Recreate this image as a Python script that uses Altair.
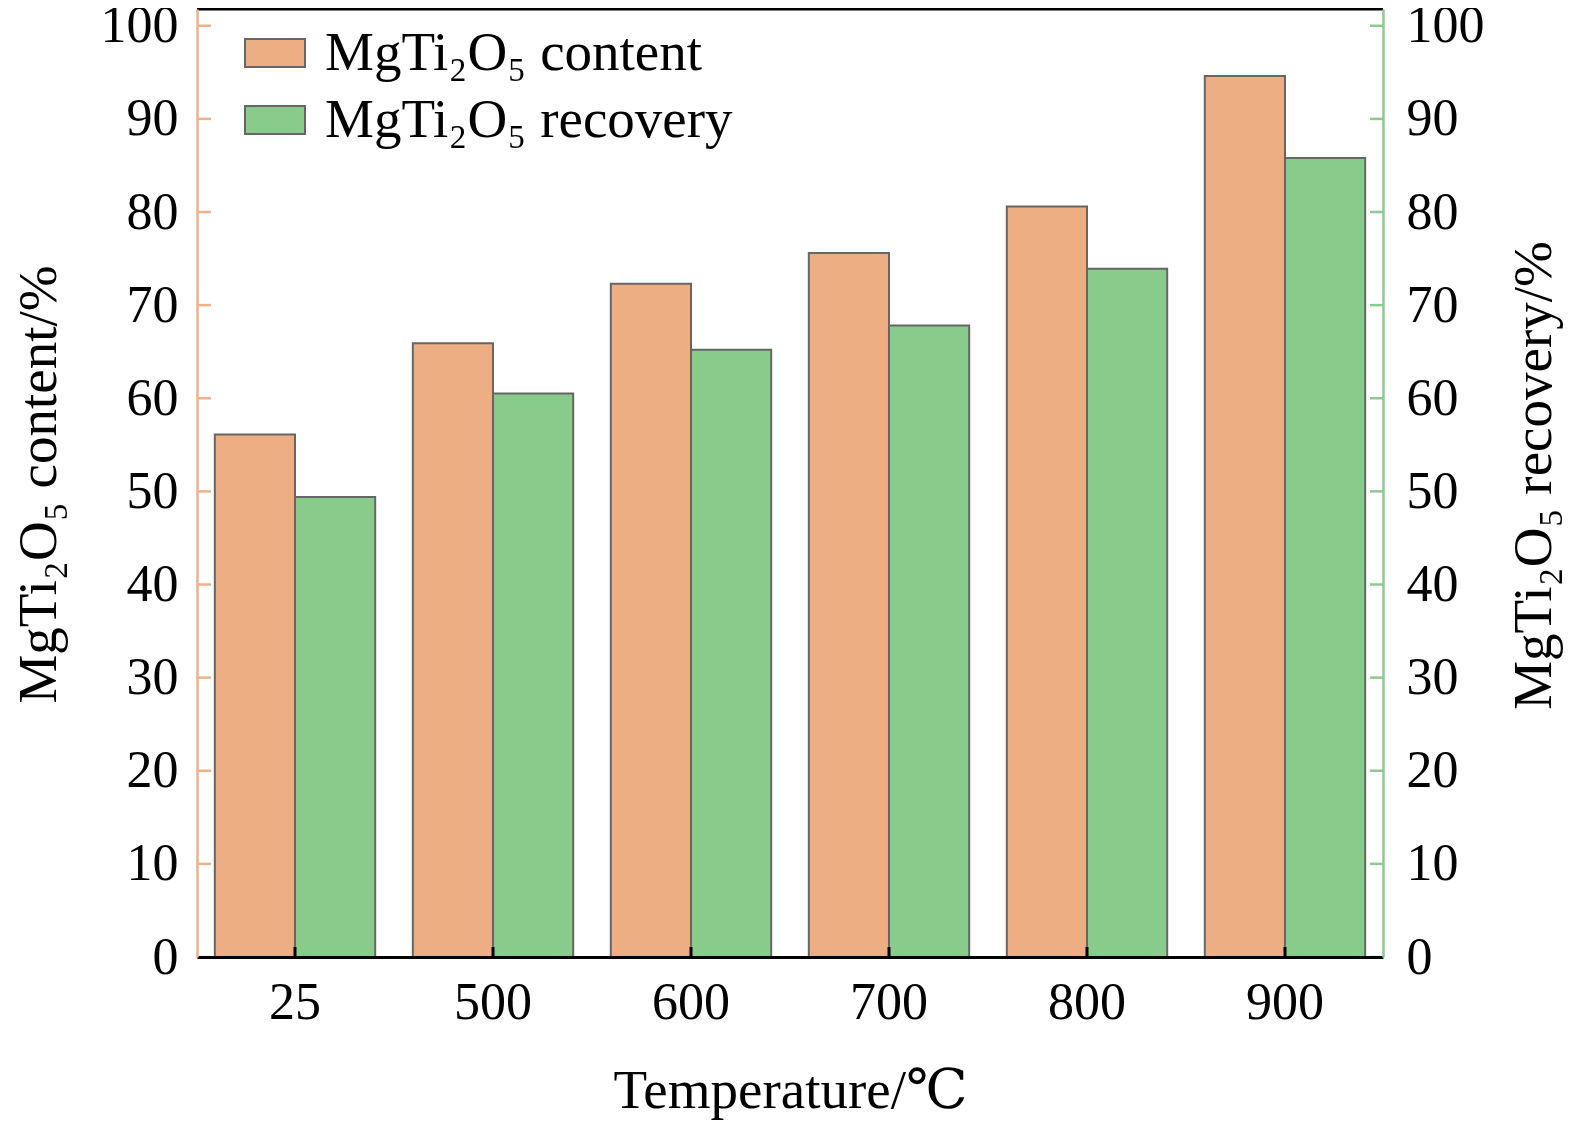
import altair as alt
import pandas as pd

# ---- data ----
temperatures = ["25", "500", "600", "700", "800", "900"]
content = [56.1, 65.9, 72.3, 75.6, 80.6, 94.6]
recovery = [49.4, 60.5, 65.2, 67.8, 73.9, 85.8]
series = ["MgTi₂O₅ content", "MgTi₂O₅ recovery"]
y_ticks = [0, 10, 20, 30, 40, 50, 60, 70, 80, 90, 100]

W, H = 1186, 948
FONT = "Liberation Serif, DejaVu Serif, serif"
ORANGE = "#EEAE84"
GREEN = "#89CB8B"
ORANGE_AX = "#EFB288"
GREEN_AX = "#8CCB8E"
STROKE = "#666666"
YDOM = [0, 101.8]

rows = []
for t, c, r in zip(temperatures, content, recovery):
    rows.append({"Temperature": t, "Series": series[0], "Value": c})
    rows.append({"Temperature": t, "Series": series[1], "Value": r})
df = pd.DataFrame(rows)
tick_df = pd.DataFrame({"v": y_ticks})
temp_df = pd.DataFrame({"Temperature": temperatures})

x_enc = alt.X(
    "Temperature:N",
    sort=temperatures,
    scale=alt.Scale(paddingInner=0.19, paddingOuter=0.09),
    axis=alt.Axis(
        title="Temperature/℃",
        labelFont=FONT, labelFontSize=52, labelColor="black",
        labelPadding=20, labelAngle=0,
        ticks=False, tickSize=0,
        domainColor="black", domainWidth=3,
        titleFont=FONT, titleFontSize=55, titleFontWeight="normal",
        titleColor="black", titleBaseline="alphabetic", titleY=150,
        grid=False, zindex=1,
    ),
)

bars = alt.Chart(df).mark_bar(stroke=STROKE, strokeWidth=2).encode(
    x=x_enc,
    xOffset=alt.XOffset("Series:N", sort=series),
    y=alt.Y("Value:Q", scale=alt.Scale(domain=YDOM, nice=False), axis=None),
    color=alt.Color(
        "Series:N",
        scale=alt.Scale(domain=series, range=[ORANGE, GREEN]),
        legend=alt.Legend(
            title=None, orient="none", legendX=47, legendY=13,
            direction="vertical",
            symbolType="M-1,-0.47L1,-0.47L1,0.47L-1,0.47Z",
            symbolSize=3600, symbolStrokeColor=STROKE, symbolStrokeWidth=2,
            symbolOpacity=1,
            labelFont=FONT, labelFontSize=55, labelColor="black",
            labelOffset=19, rowPadding=8, padding=0, labelLimit=0,
        ),
    ),
)

left_ticks = alt.Chart(tick_df).mark_rule(color=ORANGE_AX, strokeWidth=2.5).encode(
    y=alt.Y(
        "v:Q",
        scale=alt.Scale(domain=YDOM, nice=False),
        axis=alt.Axis(
            orient="left", values=y_ticks, format="d",
            ticks=False, tickSize=0, labelPadding=19,
            labelFont=FONT, labelFontSize=52, labelColor="black",
            domainColor=ORANGE_AX, domainWidth=2.5,
            title="MgTi₂O₅ content/%",
            titleFont=FONT, titleFontSize=55, titleFontWeight="normal",
            titleColor="black", titleAngle=270, titleBaseline="alphabetic",
            titleAlign="center", titleX=-142, titleY=475,
            grid=False, zindex=1,
        ),
    ),
    x=alt.value(0),
    x2=alt.value(14),
)

right_ticks = alt.Chart(tick_df).mark_rule(color=GREEN_AX, strokeWidth=2.5).encode(
    y=alt.Y(
        "v:Q",
        scale=alt.Scale(domain=YDOM, nice=False),
        axis=alt.Axis(
            orient="right", values=y_ticks, format="d",
            ticks=False, tickSize=0, labelPadding=23,
            labelFont=FONT, labelFontSize=52, labelColor="black",
            domainColor=GREEN_AX, domainWidth=2.5,
            title="MgTi₂O₅ recovery/%",
            titleFont=FONT, titleFontSize=55, titleFontWeight="normal",
            titleColor="black", titleAngle=270, titleBaseline="alphabetic",
            titleAlign="center", titleX=167, titleY=466,
            grid=False, zindex=1,
        ),
    ),
    x=alt.value(W - 13),
    x2=alt.value(W),
)

bottom_ticks = alt.Chart(temp_df).mark_rule(color="black", strokeWidth=3).encode(
    x=x_enc,
    y=alt.value(H - 10),
    y2=alt.value(H),
)

top_border = alt.Chart(pd.DataFrame({"a": [0]})).mark_rule(color="black", strokeWidth=3).encode(
    x=alt.value(0),
    x2=alt.value(W),
    y=alt.value(0),
)

chart = (
    alt.layer(bars, left_ticks, right_ticks, bottom_ticks, top_border)
    .resolve_scale(y="independent")
    .properties(
        width=W, height=H,
        autosize=alt.AutoSizeParams(type="none"),
        padding={"left": 189, "top": 1, "right": 184, "bottom": 166},
        background="white",
    )
    .configure_view(stroke=None)
)

chart.save("out.html", embed_options={"renderer": "svg", "actions": False})
